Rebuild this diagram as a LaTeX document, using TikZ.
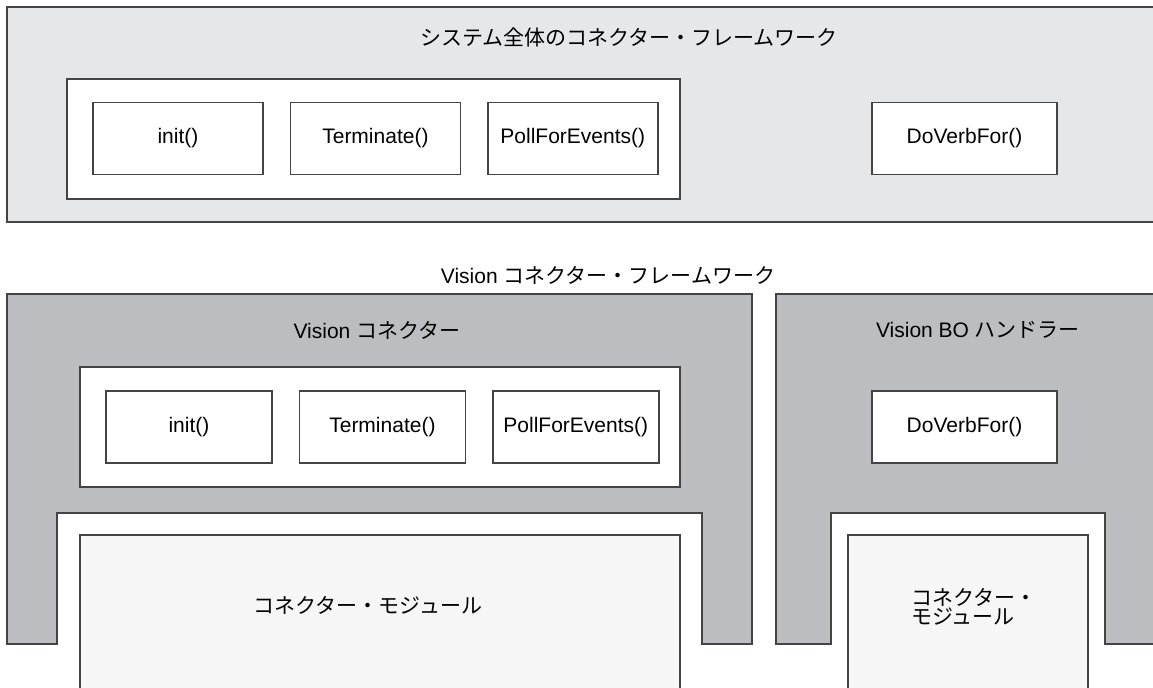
\documentclass[tikz,border=0pt]{standalone}
\usepackage{fontspec}
\setmainfont{Liberation Sans}
\newfontfamily\jp{Noto Sans CJK JP}
\usetikzlibrary{positioning}

\definecolor{framegray}{RGB}{230,231,233}
\definecolor{handgray}{RGB}{188,189,192}
\definecolor{modgray}{RGB}{246,246,246}
\definecolor{edgegray}{RGB}{68,68,68}

\begin{document}
\begin{tikzpicture}[x=0.5pt,y=-0.5pt,
    method/.style={shape=rectangle,draw=edgegray,fill=white,line width=0.7pt,minimum width=85pt,minimum height=36pt,inner sep=0pt,font=\fontsize{10.5pt}{12pt}\selectfont},
    holder/.style={shape=rectangle,draw=edgegray,fill=white,line width=0.7pt,minimum height=60pt,inner sep=0pt},
    wall/.style={draw=edgegray,line width=0.7pt},
    caption/.style={inner sep=0pt,font=\fontsize{10.5pt}{12pt}\selectfont}]
    \useasboundingbox (0,0) rectangle (1153,688);
    \clip (0,0) rectangle (1153,688);
    % Draw frames
    \draw[wall,fill=framegray] (7,7) rectangle (1170,222);
    \draw[wall,fill=handgray] (7,294) -- (752,294) -- (752,644) -- (702,644) -- (702,513) -- (57,513) -- (57,644) -- (7,644) -- cycle;
    \draw[wall,fill=handgray] (776,294) -- (1170,294) -- (1170,644) -- (1105,644) -- (1105,513) -- (831,513) -- (831,644) -- (776,644) -- cycle;
    \draw[wall,fill=modgray] (80,700) -- (80,535) -- (680,535) -- (680,700);
    \draw[wall,fill=modgray] (848,700) -- (848,535) -- (1088,535) -- (1088,700);

    % Define nodes
    \node[caption] (sysTitle) at (629,37) {\jp システム全体のコネクター・フレームワーク};
    \node[holder,minimum width=306.5pt] (sysHolder) at (373.5,139) {};
    \node[method] (sysInit) at (178,138.5) {init()};
    \node[method,right=13pt of sysInit] (sysTerm) {Terminate()};
    \node[method,right=13pt of sysTerm] (sysPoll) {PollForEvents()};
    \node[method,minimum width=92.5pt] (sysVerb) at (964.5,138.5) {DoVerbFor()};

    \node[caption] (visTitle) at (608,275) {Vision {\jp コネクター・フレームワーク}};
    \node[caption] (conTitle) at (377,330) {Vision {\jp コネクター}};
    \node[caption] (boTitle) at (978,330) {Vision BO {\jp ハンドラー}};
    \node[holder,minimum width=300pt] (conHolder) at (380,427) {};
    \node[method,minimum width=83pt] (conInit) at (189,427) {init()};
    \node[method,minimum width=83pt,right=13pt of conInit] (conTerm) {Terminate()};
    \node[method,minimum width=83pt,right=13pt of conTerm] (conPoll) {PollForEvents()};
    \node[method,minimum width=92.5pt] (boVerb) at (964.5,427) {DoVerbFor()};

    \node[caption] (conModule) at (368,605) {\jp コネクター・モジュール};
    \node[caption,align=left] (boModule) at (974,607) {\jp コネクター・\\[-2.5pt]\jp モジュール};
\end{tikzpicture}
\end{document}
